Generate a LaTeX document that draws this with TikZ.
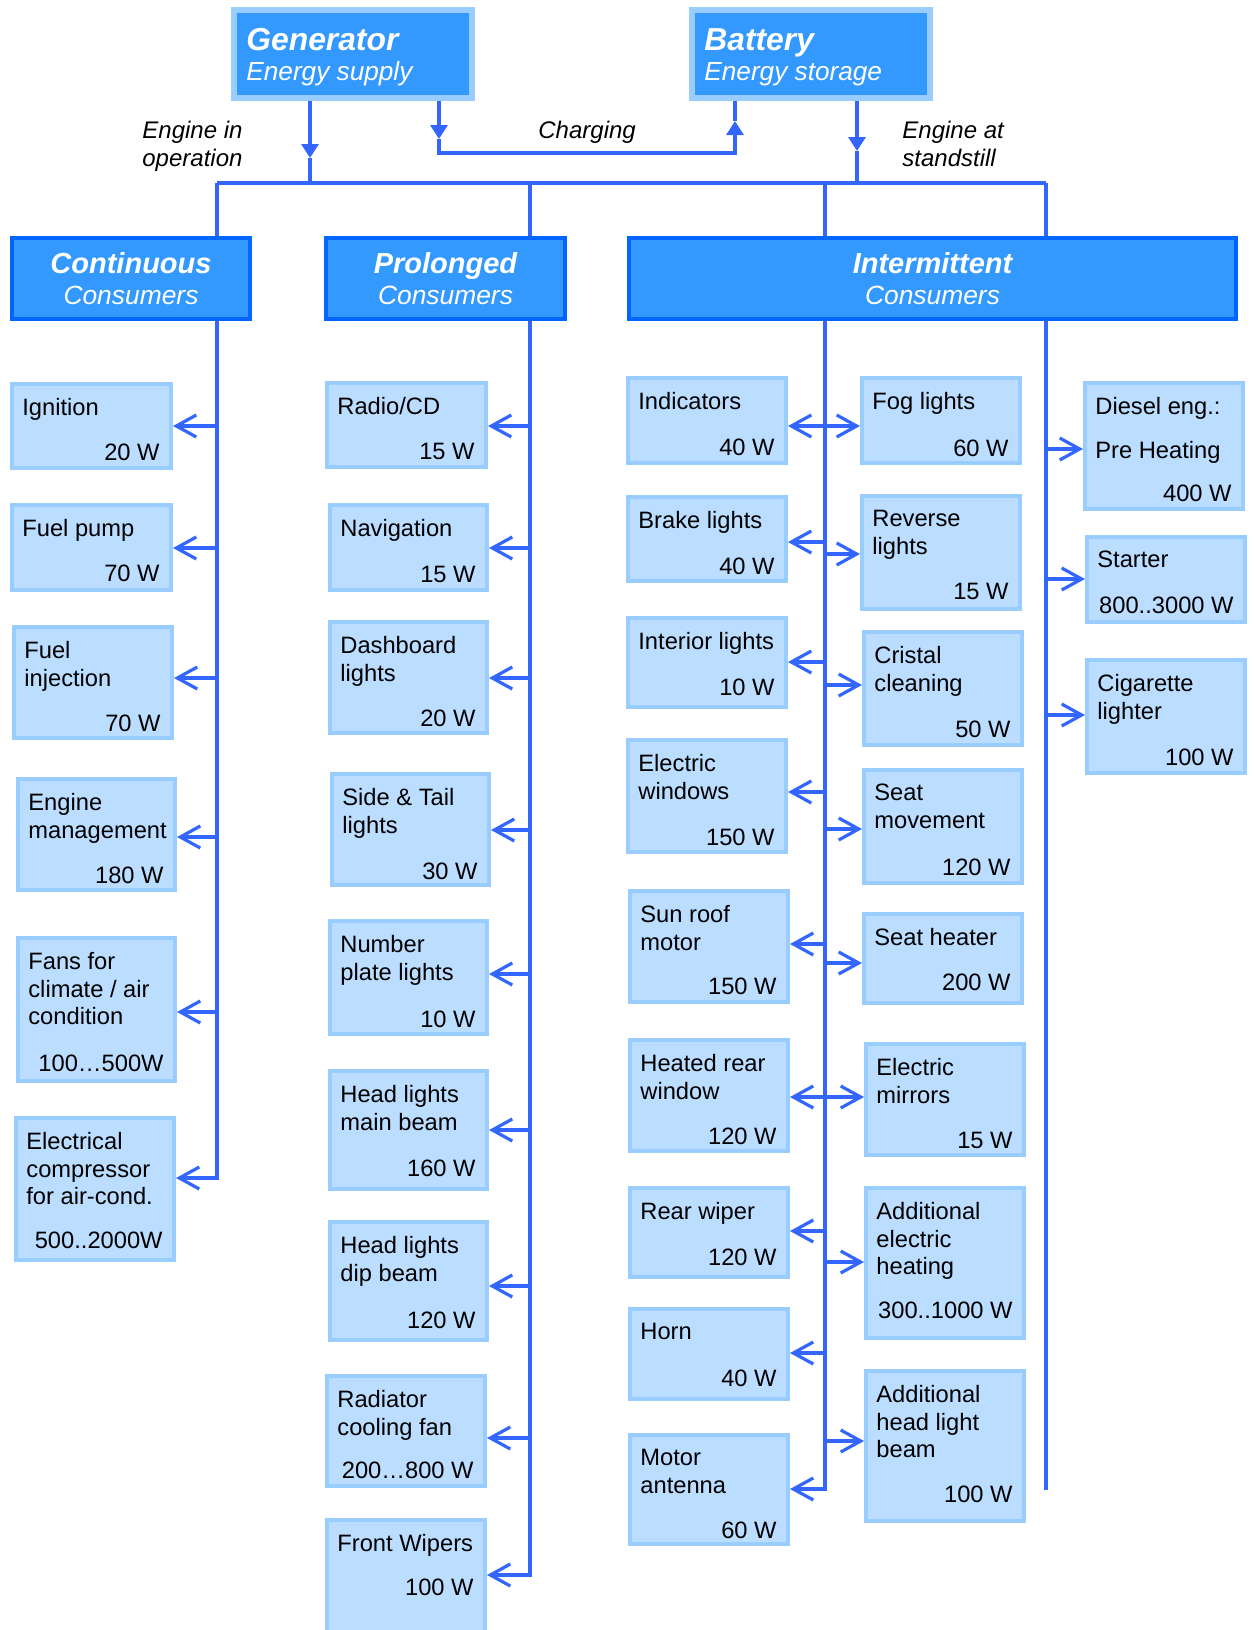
\documentclass[tikz,border=0pt]{standalone}
\usepackage{fontspec}
\setmainfont{Liberation Sans}
\usepackage{xcolor}
\usepackage{tikz}
\usetikzlibrary{arrows.meta}

\definecolor{flowblue}{RGB}{51,102,255}
\definecolor{consfill}{RGB}{187,221,255}
\definecolor{consline}{RGB}{153,204,255}
\definecolor{headfill}{RGB}{51,153,255}
\definecolor{headline}{RGB}{0,102,255}

% consumer box: id, x1, y1, x2, y2, watt baseline, name, watt
\newcommand{\consumer}[8]{%
  \node[cbox, minimum width={(#4-#2-4)*0.5pt}, minimum height={(#5-#3-4)*0.5pt}] (#1) at ({(#2+#4)/2},{(#3+#5)/2}) {};
  \node[ctext, anchor=north west] (#1-name) at (#2+12,#3+16) {#7};
  \node[ctext, anchor=base east] (#1-watt) at (#4-13,#6) {#8};
}

\begin{document}
\begin{tikzpicture}[x=0.5pt, y=-0.5pt,
    cbox/.style={draw=consline, fill=consfill, line width=2pt, inner sep=0},
    ctext/.style={inner sep=0, align=left, font=\fontsize{11.85pt}{13.75pt}\selectfont},
    head/.style={draw=headline, fill=headfill, line width=2pt, inner sep=0},
    headtitle/.style={anchor=base, inner sep=0, text=white, font=\bfseries\itshape\fontsize{14.5pt}{16pt}\selectfont},
    headsub/.style={anchor=base, inner sep=0, text=white, font=\itshape\fontsize{13.2pt}{15pt}\selectfont},
    src/.style={draw=consline, fill=headfill, line width=3pt, inner sep=0},
    srctitle/.style={anchor=base west, inner sep=0, text=white, font=\bfseries\itshape\fontsize{15.9pt}{17pt}\selectfont},
    srcsub/.style={anchor=base west, inner sep=0, text=white, font=\itshape\fontsize{13.1pt}{15pt}\selectfont},
    note/.style={anchor=north west, inner sep=0, align=left, font=\itshape\fontsize{12pt}{14pt}\selectfont},
    flow/.style={draw=flowblue, line width=1.6pt},
    feed/.style={flow, -{Straight Barb[length=10pt,width=11pt]}},
    supply/.style={flow, -{Triangle[length=7pt,width=8.5pt]}},
]
\clip[use as bounding box] (0,0) rectangle (1254,1630);

% sources
\node[src, minimum width=119pt, minimum height=44pt] (gen) at (353,54) {};
\node[srctitle] (gen-t) at (246,50) {Generator};
\node[srcsub] (gen-s) at (246,80) {Energy supply};
\node[src, minimum width=119pt, minimum height=44pt] (bat) at (811,54) {};
\node[srctitle] (bat-t) at (704,50) {Battery};
\node[srcsub] (bat-s) at (704,80) {Energy storage};

\node[note] (run) at (142,121) {Engine in\\operation};
\node[note] (chg) at (538,121) {Charging};
\node[note] (still) at (902,121) {Engine at\\standstill};

% bus
\coordinate (col1) at (217,183);
\coordinate (col2) at (530,183);
\coordinate (col3) at (825,183);
\coordinate (col4) at (1046,183);
\coordinate (gen-in) at (310,183);
\coordinate (bat-in) at (857,183);
\coordinate (chg-a) at (439,153);
\coordinate (chg-b) at (735,153);

\draw[supply] (gen.south -| gen-in) -- (310,158);
\draw[flow] (310,158) -- (gen-in);
\draw[supply] (gen.south -| chg-a) -- (439,139);
\draw[supply] (439,139) -- (chg-a) -- (chg-b) -- (735,121);
\draw[flow] (735,121) -- (bat.south -| chg-b);
\draw[supply] (bat.south -| bat-in) -- (857,151);
\draw[flow] (857,151) -- (bat-in);
\draw[flow] (col1) -- (col4);

% consumers
\consumer{ign}{10}{382}{173}{470}{460}{Ignition}{20 W}
\consumer{fpump}{10}{503}{173}{592}{581}{Fuel pump}{70 W}
\consumer{finj}{12}{625}{174}{740}{731}{Fuel\\injection}{70 W}
\consumer{emgmt}{16}{777}{177}{892}{883}{Engine\\management}{180 W}
\consumer{fans}{16}{936}{177}{1083}{1071}{Fans for\\climate / air\\condition}{100…500W}
\consumer{comp}{14}{1116}{176}{1262}{1248}{Electrical\\compressor\\for air-cond.}{500..2000W}

\consumer{radio}{325}{381}{488}{469}{459}{Radio/CD}{15 W}
\consumer{navi}{328}{503}{489}{592}{582}{Navigation}{15 W}
\consumer{dash}{328}{620}{489}{735}{726}{Dashboard\\lights}{20 W}
\consumer{side}{330}{772}{491}{887}{879}{Side \& Tail\\lights}{30 W}
\consumer{plate}{328}{919}{489}{1036}{1027}{Number\\plate lights}{10 W}
\consumer{hmain}{328}{1069}{489}{1191}{1176}{Head lights\\main beam}{160 W}
\consumer{hdip}{328}{1220}{489}{1342}{1328}{Head lights\\dip beam}{120 W}
\consumer{rad}{325}{1374}{487}{1488}{1478}{Radiator\\cooling fan}{200…800 W}
\consumer{wipe}{325}{1518}{487}{1660}{1595}{Front Wipers}{100 W}

\consumer{indi}{626}{376}{788}{465}{455}{Indicators}{40 W}
\consumer{brake}{626}{495}{788}{583}{574}{Brake lights}{40 W}
\consumer{inter}{626}{616}{788}{709}{695}{Interior lights}{10 W}
\consumer{ewin}{626}{738}{788}{854}{845}{Electric\\windows}{150 W}
\consumer{sun}{628}{889}{790}{1004}{994}{Sun roof\\motor}{150 W}
\consumer{heat}{628}{1038}{790}{1153}{1144}{Heated rear\\window}{120 W}
\consumer{rwip}{628}{1186}{790}{1279}{1265}{Rear wiper}{120 W}
\consumer{horn}{628}{1307}{790}{1401}{1386}{Horn}{40 W}
\consumer{ant}{628}{1433}{790}{1546}{1538}{Motor\\antenna}{60 W}

\consumer{fog}{860}{376}{1022}{465}{456}{Fog lights}{60 W}
\consumer{rev}{860}{494}{1022}{611}{599}{Reverse\\lights}{15 W}
\consumer{crist}{862}{630}{1024}{747}{737}{Cristal\\cleaning}{50 W}
\consumer{smov}{862}{768}{1024}{885}{875}{Seat\\movement}{120 W}
\consumer{sheat}{862}{912}{1024}{1005}{990}{Seat heater}{200 W}
\consumer{mirr}{864}{1042}{1026}{1157}{1148}{Electric\\mirrors}{15 W}
\consumer{aheat}{864}{1186}{1026}{1340}{1318}{Additional\\electric\\heating}{300..1000 W}
\consumer{ahead}{864}{1369}{1026}{1523}{1502}{Additional\\head light\\beam}{100 W}

\consumer{diesel}{1083}{381}{1245}{511}{501}{Diesel eng.:\\[8.25pt]Pre Heating}{400 W}
\consumer{start}{1085}{535}{1247}{624}{613}{Starter}{800..3000 W}
\consumer{cig}{1085}{658}{1247}{775}{765}{Cigarette\\lighter}{100 W}

% feeds
\draw[feed] (col1) -- (col1 |- 0,1178) -- (comp.east |- 0,1178);
\foreach \b/\y in {ign/426, fpump/548, finj/678, emgmt/837, fans/1012}
    \draw[feed] (col1 |- 0,\y) -- (\b.east |- 0,\y);

\draw[feed] (col2) -- (col2 |- 0,1575) -- (wipe.east |- 0,1575);
\foreach \b/\y in {radio/426, navi/548, dash/678, side/830, plate/974, hmain/1130, hdip/1286, rad/1438}
    \draw[feed] (col2 |- 0,\y) -- (\b.east |- 0,\y);

\draw[feed] (col3) -- (col3 |- 0,1489) -- (ant.east |- 0,1489);
\foreach \b/\y in {indi/426, brake/542, inter/662, ewin/792, sun/944, heat/1097, rwip/1231, horn/1353}
    \draw[feed] (col3 |- 0,\y) -- (\b.east |- 0,\y);
\foreach \b/\y in {fog/426, rev/554, crist/685, smov/829, sheat/963, mirr/1097, aheat/1262, ahead/1441}
    \draw[feed] (col3 |- 0,\y) -- (\b.west |- 0,\y);

\draw[flow] (col4) -- (col4 |- 0,1490);
\foreach \b/\y in {diesel/449, start/579, cig/715}
    \draw[feed] (col4 |- 0,\y) -- (\b.west |- 0,\y);

% consumer groups
\node[head, minimum width=119pt, minimum height=40.5pt] (cont) at (131,278.5) {};
\node[headtitle] (cont-t) at (131,273) {Continuous};
\node[headsub] (cont-s) at (131,304) {Consumers};
\node[head, minimum width=119.5pt, minimum height=40.5pt] (prol) at (445.5,278.5) {};
\node[headtitle] (prol-t) at (445.5,273) {Prolonged};
\node[headsub] (prol-s) at (445.5,304) {Consumers};
\node[head, minimum width=303.5pt, minimum height=40.5pt] (inter-h) at (932.5,278.5) {};
\node[headtitle] (inter-t) at (932.5,273) {Intermittent};
\node[headsub] (inter-s) at (932.5,304) {Consumers};
\end{tikzpicture}
\end{document}
